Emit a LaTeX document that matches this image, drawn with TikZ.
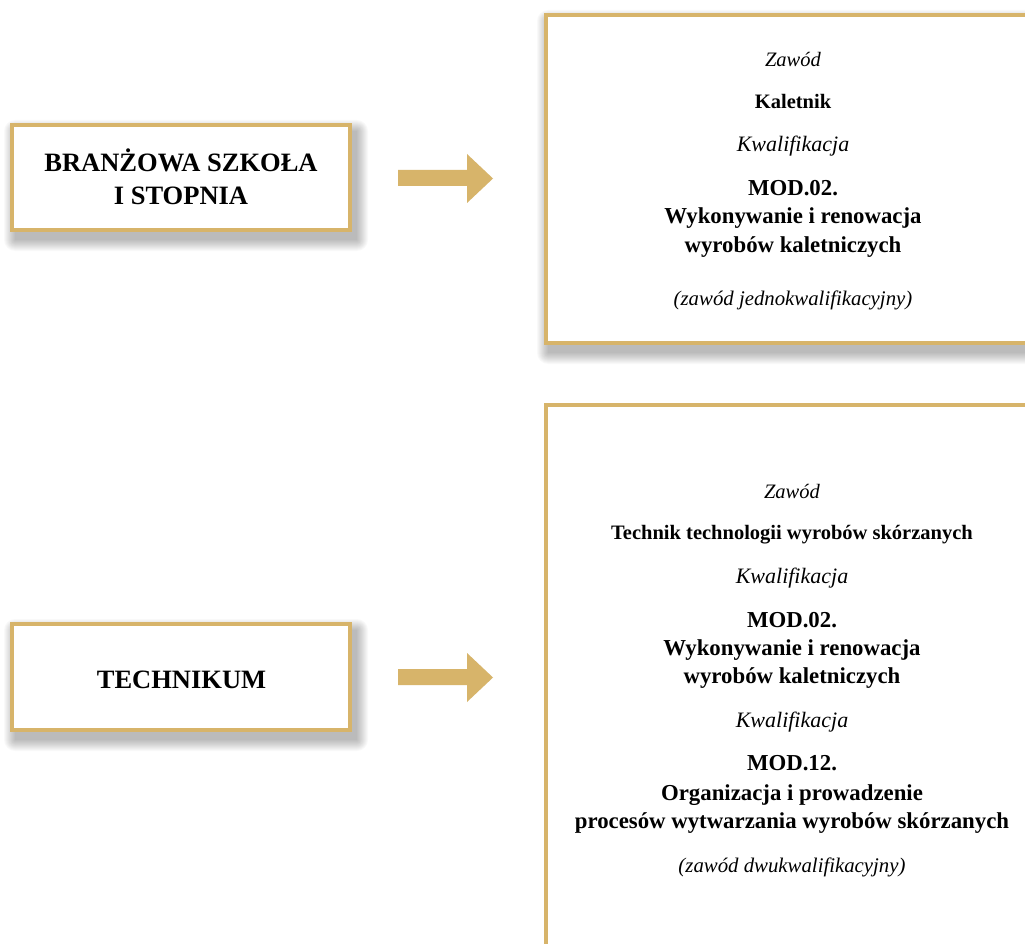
\documentclass[tikz,border=0pt]{standalone}
\usepackage{fontspec}
\setmainfont{Liberation Serif}
\definecolor{gold}{RGB}{215,180,106}
\newcommand\softshadow[4]{%
  \foreach \r in {0,1,...,11}{%
    \fill[black,opacity=0.022,rounded corners=\r pt] (#1+5-\r,#2+8-\r) rectangle (#3+5+\r,#4+8+\r);
  }%
}
\tikzset{
  goldbox/.style={draw=gold,line width=4pt,fill=white},
  txt/.style={anchor=base,inner sep=0pt},
  leftlabel/.style={txt,font=\fontsize{26.5}{30}\selectfont\bfseries},
  zawlabel/.style={txt,font=\fontsize{20.5}{24}\selectfont\itshape},
  namelabel/.style={txt,font=\fontsize{20.5}{24}\selectfont\bfseries},
  kwallabel/.style={txt,font=\fontsize{22}{26}\selectfont\itshape},
  modlabel/.style={txt,font=\fontsize{22.8}{26}\selectfont\bfseries},
  notelabel/.style={txt,font=\fontsize{20.8}{24}\selectfont\itshape},
  blockarrow/.style={fill=gold,draw=none}
}
\begin{document}
\begin{tikzpicture}[x=1pt,y=-1pt]
\useasboundingbox (0,0) rectangle (1025,944);
\clip (0,0) rectangle (1025,944);
\fill[white] (0,0) rectangle (1025,944);

% shadows
\softshadow{10}{123}{352}{232}
\softshadow{10}{622}{352}{732}
\softshadow{543}{13}{1060}{345}

% left boxes
\path[goldbox] (12,125) rectangle (350,230);
\path[goldbox] (12,624) rectangle (350,730);

% right boxes
\path[goldbox] (545.5,15) rectangle (1060,343);
\path[goldbox] (545.5,405) rectangle (1060,980);

% arrows
\fill[blockarrow] (398,170) -- (467,170) -- (467,154) -- (493,178.5) -- (467,203) -- (467,186) -- (398,186) -- cycle;
\fill[blockarrow] (398,669) -- (467,669) -- (467,653) -- (493,677.5) -- (467,702) -- (467,685) -- (398,685) -- cycle;

% left texts
\node[leftlabel] (bs1) at (181,172) {BRANŻOWA SZKOŁA};
\node[leftlabel] (bs2) at (181,205) {I STOPNIA};
\node[leftlabel] (tech) at (181.5,688) {TECHNIKUM};

% right box 1
\node[zawlabel] (z1) at (793,67) {Zawód};
\node[namelabel] (n1) at (793,109) {Kaletnik};
\node[kwallabel] (k1) at (793,152) {Kwalifikacja};
\node[modlabel] (m1a) at (793,196) {MOD.02.};
\node[modlabel] (m1b) at (793,224) {Wykonywanie i renowacja};
\node[modlabel] (m1c) at (793,252) {wyrobów kaletniczych};
\node[notelabel] (nt1) at (793,305) {(zawód jednokwalifikacyjny)};

% right box 2
\node[zawlabel] (z2) at (792,498) {Zawód};
\node[namelabel] (n2) at (792,539) {Technik technologii wyrobów skórzanych};
\node[kwallabel] (k2) at (792,583) {Kwalifikacja};
\node[modlabel] (m2a) at (792,627) {MOD.02.};
\node[modlabel] (m2b) at (792,655) {Wykonywanie i renowacja};
\node[modlabel] (m2c) at (792,683) {wyrobów kaletniczych};
\node[kwallabel] (k3) at (792,727) {Kwalifikacja};
\node[modlabel] (m3a) at (792,770) {MOD.12.};
\node[modlabel] (m3b) at (792,800) {Organizacja i prowadzenie};
\node[modlabel] (m3c) at (792,828) {procesów wytwarzania wyrobów skórzanych};
\node[notelabel] (nt2) at (792,872) {(zawód dwukwalifikacyjny)};
\end{tikzpicture}
\end{document}
